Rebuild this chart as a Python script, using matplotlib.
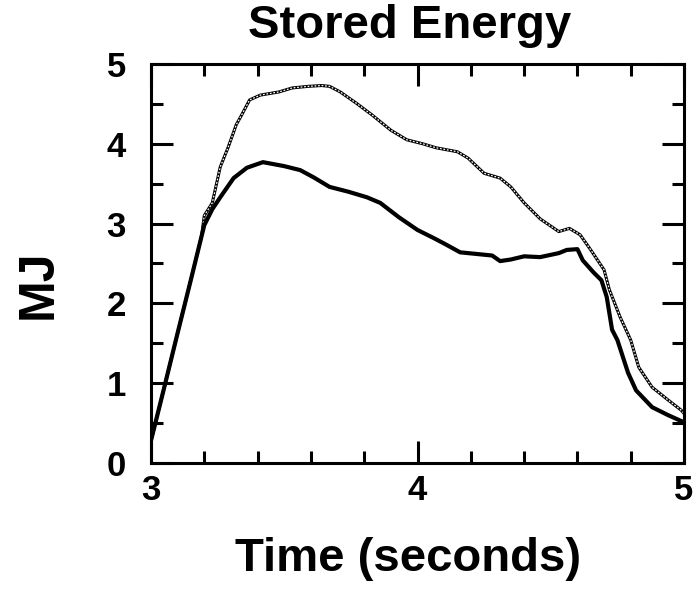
import matplotlib.pyplot as plt
from matplotlib.ticker import MultipleLocator

# --- data ---
# thick solid trace
t_solid = [3.00, 3.05, 3.10, 3.15, 3.20, 3.23, 3.26, 3.31, 3.36, 3.42, 3.50,
           3.56, 3.61, 3.67, 3.74, 3.81, 3.86, 3.93, 4.00, 4.06, 4.10, 4.16,
           4.22, 4.28, 4.31, 4.35, 4.40, 4.46, 4.53, 4.56, 4.60, 4.62, 4.66,
           4.69, 4.71, 4.73, 4.75, 4.79, 4.82, 4.88, 4.94, 4.98, 5.00]
e_solid = [0.28, 0.95, 1.63, 2.30, 2.98, 3.18, 3.33, 3.57, 3.70, 3.77, 3.72,
           3.67, 3.58, 3.46, 3.40, 3.33, 3.26, 3.08, 2.92, 2.82, 2.75, 2.64,
           2.62, 2.60, 2.53, 2.55, 2.59, 2.58, 2.63, 2.67, 2.68, 2.54, 2.39,
           2.29, 2.08, 1.67, 1.54, 1.13, 0.91, 0.70, 0.60, 0.54, 0.51]

# open-circle trace
t_dot = [3.00, 3.05, 3.10, 3.15, 3.19, 3.20, 3.23, 3.26, 3.29, 3.32, 3.34,
         3.37, 3.41, 3.48, 3.53, 3.59, 3.64, 3.67, 3.71, 3.77, 3.83, 3.90,
         3.96, 4.02, 4.07, 4.15, 4.19, 4.25, 4.31, 4.35, 4.40, 4.46, 4.53,
         4.57, 4.61, 4.65, 4.70, 4.72, 4.76, 4.80, 4.83, 4.88, 4.94, 4.99,
         5.00]
e_dot = [0.28, 0.95, 1.63, 2.30, 2.85, 3.10, 3.26, 3.71, 3.96, 4.24, 4.36,
         4.55, 4.61, 4.65, 4.70, 4.72, 4.73, 4.72, 4.65, 4.51, 4.36, 4.17,
         4.05, 4.00, 3.95, 3.90, 3.82, 3.63, 3.57, 3.46, 3.26, 3.06, 2.90,
         2.94, 2.86, 2.67, 2.42, 2.17, 1.83, 1.54, 1.20, 0.95, 0.79, 0.66,
         0.62]

plt.rcParams['font.family'] = ['Liberation Sans', 'DejaVu Sans']
plt.rcParams['font.weight'] = 'bold'

fig = plt.figure(figsize=(6.98, 5.92), dpi=100)
ax = fig.add_axes([0.2163, 0.2179, 0.7637, 0.674])

# open-circle look: black line with a white dashed core
ax.plot(t_dot, e_dot, color='black', lw=2.2, solid_joinstyle='round')
ax.plot(t_dot, e_dot, color='white', lw=0.9, dashes=(1.4, 1.4))
ax.plot(t_solid, e_solid, color='black', lw=3.0, solid_joinstyle='round')

ax.set_xlim(3, 5)
ax.set_ylim(0, 5)
ax.xaxis.set_major_locator(MultipleLocator(1))
ax.xaxis.set_minor_locator(MultipleLocator(0.2))
ax.yaxis.set_major_locator(MultipleLocator(1))
ax.yaxis.set_minor_locator(MultipleLocator(0.5))

for s in ax.spines.values():
    s.set_linewidth(2.2)
ax.tick_params(which='both', direction='in', top=True, right=True, width=2.2)
ax.tick_params(which='major', length=16, labelsize=25)
ax.tick_params(axis='y', which='major', pad=18)
ax.tick_params(axis='x', which='major', pad=8)
ax.tick_params(which='minor', length=8.5)

ax.set_title('Stored Energy', fontsize=34, fontweight='bold', pad=19, x=0.486)
ax.set_xlabel('Time (seconds)', fontsize=34, fontweight='bold')
ax.xaxis.set_label_coords(0.482, -0.185)
ax.set_ylabel('MJ', fontsize=36, fontweight='bold')
ax.yaxis.set_label_coords(-0.167, 0.449)

fig.savefig('out.png', dpi=100)
